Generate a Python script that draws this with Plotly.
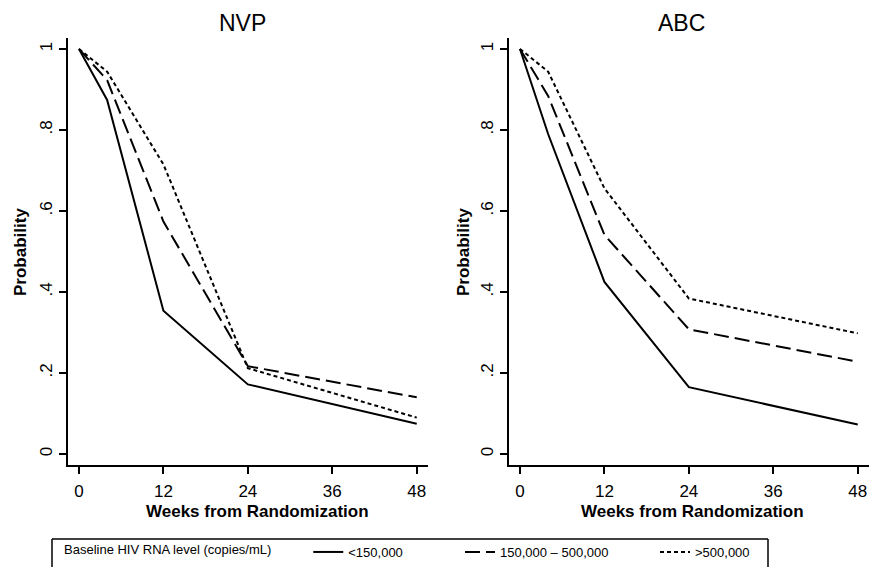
import plotly.graph_objects as go

weeks = [0, 4, 12, 24, 48]
series_names = ["<150,000", "150,000 \u2013 500,000", ">500,000"]

nvp_low = [1.0, 0.874, 0.354, 0.172, 0.075]
nvp_mid = [1.0, 0.923, 0.574, 0.217, 0.140]
nvp_high = [1.0, 0.944, 0.715, 0.212, 0.090]

abc_low = [1.0, 0.790, 0.425, 0.165, 0.073]
abc_mid = [1.0, 0.884, 0.541, 0.308, 0.228]
abc_high = [1.0, 0.944, 0.656, 0.384, 0.298]

panel_titles = ["NVP", "ABC"]
x_ticks = [0, 12, 24, 36, 48]
y_ticks = [0, 0.2, 0.4, 0.6, 0.8, 1.0]
y_ticktext = ["0", ".2", ".4", ".6", ".8", "1"]

W, H = 869, 567
dashes = ["solid", "15px,6px", "4px,3px"]
legend_ids = ["legend", "legend2", "legend3"]
tick_font = dict(family="Liberation Sans Narrow, Arial Narrow, Liberation Sans, Arial", size=17, color="black")
leg_font = dict(family="Liberation Sans, Arial", size=13, color="black")

fig = go.Figure()
for panel, data in enumerate([[nvp_low, nvp_mid, nvp_high], [abc_low, abc_mid, abc_high]]):
    xa = "x" if panel == 0 else "x2"
    ya = "y" if panel == 0 else "y2"
    for i, vals in enumerate(data):
        fig.add_trace(go.Scatter(
            x=weeks, y=vals, mode="lines", name=series_names[i],
            line=dict(color="black", width=2, dash=dashes[i]),
            xaxis=xa, yaxis=ya, showlegend=(panel == 0), legend=legend_ids[i],
        ))

def px_x(p):
    return p / W

def px_y(p):
    return 1 - p / H

ydom = [px_y(465), px_y(38)]
common_x = dict(range=[-1.56, 49.6], tickvals=x_ticks, ticks="outside", ticklen=7, tickwidth=1.5,
                tickcolor="black", showline=True, linecolor="black", linewidth=1.5, showgrid=False,
                zeroline=False, tickfont=tick_font, automargin=False, ticklabelstandoff=3)
common_y = dict(range=[-0.027, 1.027], tickvals=y_ticks, ticktext=y_ticktext, ticks="outside", ticklen=7,
                tickwidth=1.5, tickcolor="black", showline=True, linecolor="black", linewidth=1.5,
                showgrid=False, zeroline=False, tickfont=tick_font, tickangle=-90, automargin=False,
                domain=ydom)

leg_common = dict(orientation="h", y=0, xanchor="left", yanchor="bottom",
                  borderwidth=0, bgcolor="rgba(0,0,0,0)", font=leg_font)

box = dict(xref="paper", yref="paper", line=dict(color="black", width=1.5))
fig.update_layout(
    width=W, height=H,
    margin=dict(l=0, r=0, t=0, b=0),
    paper_bgcolor="white", plot_bgcolor="white",
    xaxis=dict(domain=[px_x(68), px_x(428)], anchor="y", **common_x),
    yaxis=dict(anchor="x", **common_y),
    xaxis2=dict(domain=[px_x(509), px_x(869)], anchor="y2", **common_x),
    yaxis2=dict(anchor="x2", **common_y),
    legend=dict(x=px_x(62), title=dict(text="Baseline HIV RNA level (copies/mL)        ", side="left",
                                         font=leg_font), **leg_common),
    legend2=dict(x=px_x(460), **leg_common),
    legend3=dict(x=px_x(655), **leg_common),
    shapes=[
        dict(type="line", x0=px_x(52), x1=px_x(768), y0=px_y(539), y1=px_y(539), **box),
        dict(type="line", x0=px_x(52), x1=px_x(52), y0=px_y(539), y1=0, **box),
        dict(type="line", x0=px_x(768), x1=px_x(768), y0=px_y(539), y1=0, **box),
    ],
)

annotations = []
title_x = [242, 681]
xtitle_x = [257, 692]
ytitle_x = [20, 463]
for i in range(2):
    annotations.append(dict(text=panel_titles[i], x=px_x(title_x[i]), y=px_y(23), xref="paper", yref="paper",
                            showarrow=False, xanchor="center", yanchor="middle",
                            font=dict(family="Liberation Sans, Arial", size=23, color="black")))
    annotations.append(dict(text="<b>Weeks from Randomization</b>", x=px_x(xtitle_x[i]), y=px_y(511),
                            xref="paper", yref="paper", showarrow=False, xanchor="center", yanchor="middle",
                            font=dict(family="Liberation Sans, Arial", size=17, color="black")))
    annotations.append(dict(text="<b>Probability</b>", x=px_x(ytitle_x[i]), y=px_y(252), xref="paper",
                            yref="paper", showarrow=False, xanchor="center", yanchor="middle", textangle=-90,
                            font=dict(family="Liberation Sans, Arial", size=17, color="black")))
fig.update_layout(annotations=annotations)

fig.write_html("out.html", config={"displayModeBar": False},
               post_script="document.body.style.margin='0px';document.body.style.overflow='hidden';")
